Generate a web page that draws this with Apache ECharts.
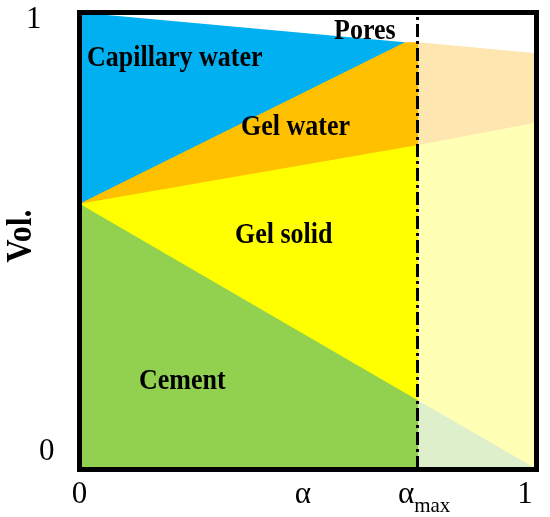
<!DOCTYPE html>
<html>
<head>
<meta charset="utf-8">
<script src="https://cdn.jsdelivr.net/npm/echarts@6/dist/echarts.min.js"></script>
<style>html,body{margin:0;padding:0;background:#fff}#c{width:550px;height:517px}</style>
</head>
<body>
<div id="c"></div>
<script>
// ---- data (degree of hydration vs. volume fraction) ----
const alphaPts    = [0, 0.712, 0.741, 1];
const poresTop    = [1.0, 0.935, null, null];    // top of capillary water (below pores)
const gelWaterTop = [0.581, 0.935, 0.935, 0.911];
const gelSolidTop = [0.581, null, 0.710, 0.759];
const cementTop   = [0.581, null, 0.150, 0.0];
const alphaMax    = 0.741;

const xTickValues = [0, 0.489, 0.741, 1];
const xTickLabels = ['0', 'α', 'αmax', '1'];
const yTickValues = [0, 1];
const yTickLabels = ['0', '1'];

const regionNames = ['Pores', 'Capillary water', 'Gel water', 'Gel solid', 'Cement'];
const yAxisName = 'Vol.';

// ---- helpers ----
function seg(vals, from, to) {
  const out = [];
  for (let i = 0; i < alphaPts.length; i++) {
    if (alphaPts[i] >= from && alphaPts[i] <= to && vals[i] !== null) out.push([alphaPts[i], vals[i]]);
  }
  return out;
}
function area(name, data, color, extra) {
  return Object.assign({
    name: name, type: 'line', data: data, symbol: 'none', silent: true,
    lineStyle: { width: 0 }, areaStyle: { color: color, opacity: 1 }, animation: false
  }, extra || {});
}

const FONT = "'Liberation Serif','Times New Roman',serif";

const series = [
  area('Capillary water', seg(poresTop, 0, alphaPts[1]), '#00B0F0'),
  area('Gel water', seg(gelWaterTop, 0, alphaMax), '#FFC000'),
  area('Gel water (rest)', seg(gelWaterTop, alphaMax, 1), '#FDE6B0'),
  area('Gel solid', seg(gelSolidTop, 0, alphaMax), '#FFFF00'),
  area('Gel solid (rest)', seg(gelSolidTop, alphaMax, 1), '#FFFFB5'),
  area('Cement', seg(cementTop, 0, alphaMax), '#92D050'),
  area('Cement (rest)', seg(cementTop, alphaMax, 1), '#DDEFCB', {
    markLine: {
      silent: true, symbol: 'none', label: { show: false },
      lineStyle: { color: '#000', width: 3, type: [13, 4, 3, 4] },
      data: [{ xAxis: alphaMax }]
    }
  })
];

const frameLine = { show: true, onZero: false, lineStyle: { color: '#000', width: 5, cap: 'square' } };

function xFmt(v) {
  let i = xTickValues.indexOf(v);
  if (i < 0) i = xTickValues.findIndex(t => Math.abs(t - v) < 1e-6);
  const t = xTickLabels[i];
  if (t === 'αmax') return '{a|α}{s|max}';
  if (i === xTickValues.length - 1) return '{r|' + t + '}';
  return '{n|' + t + '}';
}
function yFmt(v) {
  const i = yTickValues.findIndex(t => Math.abs(t - v) < 1e-6);
  return i === 0 ? '{z|' + yTickLabels[i] + '}' : '{o|' + yTickLabels[i] + '}';
}

const regionPos = [
  [334, 31.5], [87, 59], [241, 128], [235, 235.5], [139, 382]
];

const graphics = regionNames.map((t, i) => ({
  type: 'text', x: regionPos[i][0], y: regionPos[i][1], scaleY: 1.1, z: 20,
  style: { text: t, x: 0, y: 0, font: "bold 26px " + FONT, fill: '#000',
           textAlign: 'left', textVerticalAlign: 'middle', align: 'left', verticalAlign: 'middle' }
}));
graphics.push({
  type: 'text', x: 22, y: 236, rotation: Math.PI / 2, scaleY: 1.1, z: 20,
  style: { text: yAxisName, x: 0, y: 0, font: "bold 32px " + FONT, fill: '#000',
           textAlign: 'center', textVerticalAlign: 'middle', align: 'center', verticalAlign: 'middle' }
});

const chart = echarts.init(document.getElementById('c'), null, { renderer: 'canvas' });
chart.setOption({
  animation: false,
  backgroundColor: '#fff',
  grid: { left: 79.5, right: 13.5, top: 12.5, bottom: 47.5, containLabel: false },
  xAxis: [{
    type: 'value', min: 0, max: 1, position: 'bottom', z: 10,
    axisLine: frameLine, axisTick: { show: false }, splitLine: { show: false },
    axisLabel: {
      customValues: xTickValues, formatter: xFmt, margin: 10, color: '#000',
      fontFamily: FONT, fontSize: 31,
      rich: {
        n: { fontFamily: FONT, fontSize: 31, color: '#000' },
        r: { fontFamily: FONT, fontSize: 31, color: '#000', padding: [0, 23, 0, 0] },
        a: { fontFamily: FONT, fontSize: 31, color: '#000', verticalAlign: 'bottom', padding: [0, 0, 7, 12] },
        s: { fontFamily: FONT, fontSize: 21, color: '#000', verticalAlign: 'bottom' }
      }
    }
  }, {
    type: 'value', min: 0, max: 1, position: 'top', z: 10,
    axisLine: frameLine, axisTick: { show: false }, splitLine: { show: false }, axisLabel: { show: false }
  }],
  yAxis: [{
    type: 'value', min: 0, max: 1, position: 'left', z: 10,
    axisLine: frameLine, axisTick: { show: false }, splitLine: { show: false },
    axisLabel: {
      customValues: yTickValues, formatter: yFmt, margin: 25, color: '#000',
      fontFamily: FONT, fontSize: 31,
      rich: {
        z: { fontFamily: FONT, fontSize: 31, color: '#000', padding: [0, 0, 35, 0] },
        o: { fontFamily: FONT, fontSize: 31, color: '#000', padding: [15, 13, 0, 0] }
      }
    }
  }, {
    type: 'value', min: 0, max: 1, position: 'right', z: 10,
    axisLine: frameLine, axisTick: { show: false }, splitLine: { show: false }, axisLabel: { show: false }
  }],
  series: series,
  graphic: graphics
});
</script>
</body>
</html>
